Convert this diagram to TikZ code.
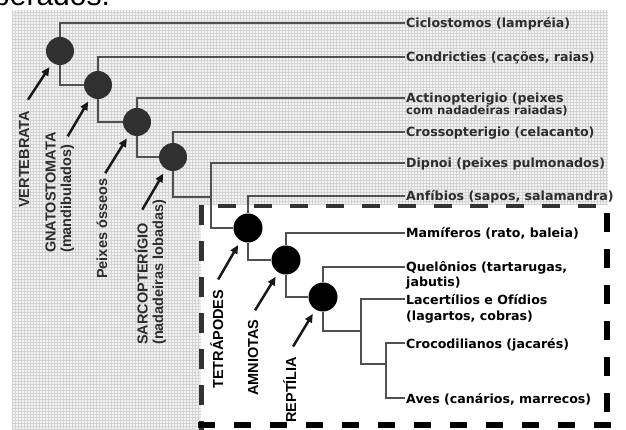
\documentclass[tikz,border=0pt]{standalone}
\usepackage{fontspec}
\usepackage{tikz}
\usetikzlibrary{arrows.meta}

\newfontfamily\taxonfont{DejaVu Sans}
\newfontfamily\cladefont{Liberation Sans}

\definecolor{gridbg}{RGB}{243,243,243}
\definecolor{gridline}{RGB}{212,212,212}
\definecolor{branch}{RGB}{80,80,80}
\definecolor{fishnode}{RGB}{48,48,48}
\definecolor{fishtext}{RGB}{45,45,45}

\tikzset{
	taxon/.style={anchor=base west, inner sep=1.5pt, align=left,
		font=\taxonfont\bfseries\fontsize{12.6}{14}\selectfont},
	clade/.style={rotate=90, anchor=base west, inner sep=0pt, align=left,
		font=\cladefont\bfseries\fontsize{14.5}{15.5}\selectfont},
	cladedot/.style={circle, fill=black, inner sep=0pt, minimum size=29pt},
	branchline/.style={draw=branch, line width=1.6pt},
	pointer/.style={draw=black!90, line width=2.5pt, -{Triangle[length=8.5pt,width=7.5pt]}, shorten >=5pt},
	boxedge/.style={draw=black},
}

\begin{document}
\begin{tikzpicture}[x=1pt, y=-1pt]
	\useasboundingbox (0,0) rectangle (626,430);
	\node[anchor=base west, inner sep=0pt, font=\cladefont\fontsize{30}{32}\selectfont] (caption) at (-7,6) {berados.};

	\fill[gridbg] (12,10) rectangle (608,430);
	\draw[gridline, line width=0.4pt, step=3pt] (12,10) grid (608,430);
	\fill[white] (201,205) rectangle (610,430);

	\node[cladedot, fill=fishnode, minimum size=28pt] (vert) at (60,51) {};
	\node[cladedot, fill=fishnode, minimum size=28pt] (gnat) at (98,85) {};
	\node[cladedot, fill=fishnode, minimum size=28pt] (osse) at (137,122) {};
	\node[cladedot, fill=fishnode, minimum size=28pt] (sarc) at (173,157) {};
	\node[cladedot] (tetr) at (248,228) {};
	\node[cladedot] (amni) at (286,260) {};
	\node[cladedot] (rept) at (323,297) {};

	\node[taxon, text=fishtext] (ciclo) at (404.5,28) {Ciclostomos (lampréia)};
	\node[taxon, text=fishtext] (condr) at (404.5,62) {Condricties (cações, raias)};
	\node[taxon, text=fishtext] (actin) at (404.5,114.5) {Actinopterigio (peixes\\[-2.5pt]{\fontsize{11.6}{13}\selectfont com nadadeiras raiadas)}};
	\node[taxon, text=fishtext] (cross) at (404.5,137) {Crossopterigio (celacanto)};
	\node[taxon, text=fishtext] (dipno) at (404.5,168) {Dipnoi (peixes pulmonados)};
	\node[taxon, text=fishtext] (anfib) at (404.5,201) {Anfíbios (sapos, salamandra)};
	\node[taxon] (mamif) at (404.5,238) {Mamíferos (rato, baleia)};
	\node[taxon] (quel) at (404.5,286) {Quelônios (tartarugas,\\jabutis)};
	\node[taxon] (lacer) at (404.5,320.5) {Lacertílios e Ofídios\\[2.5pt](lagartos, cobras)};
	\node[taxon] (croco) at (404.5,348) {Crocodilianos (jacarés)};
	\node[taxon] (aves) at (404.5,403) {Aves (canários, marrecos)};

	\coordinate (dipj) at (211,197);
	\coordinate (lacj) at (361,331);
	\coordinate (avej) at (386,364);

	\draw[branchline] (vert) |- ([yshift=5pt]ciclo.base west);
	\draw[branchline] (vert) |- (gnat);
	\draw[branchline] (gnat) |- ([yshift=5pt]condr.base west);
	\draw[branchline] (gnat) |- (osse);
	\draw[branchline] (osse) |- ([yshift=-6pt]actin.north west);
	\draw[branchline] (osse) |- (sarc);
	\draw[branchline] (sarc) |- ([yshift=5pt]cross.base west);
	\draw[branchline] (sarc) |- (dipj);
	\draw[branchline] ([yshift=5pt]dipno.base west) -| (dipj) |- (tetr);
	\draw[branchline] (tetr) |- ([yshift=5pt]anfib.base west);
	\draw[branchline] (tetr) |- (amni);
	\draw[branchline] (amni) |- ([yshift=5pt]mamif.base west);
	\draw[branchline] (amni) |- (rept);
	\draw[branchline] (rept) |- ([yshift=-6.5pt]quel.north west);
	\draw[branchline] (rept) |- (lacj);
	\draw[branchline] ([yshift=-6.5pt]lacer.north west) -| (lacj) |- (avej);
	\draw[branchline] ([yshift=5pt]croco.base west) -| (avej) |- ([yshift=5pt]aves.base west);

	\node[clade, text=fishtext] (vlab) at (29,208) {VERTEBRATA};
	\node[clade, text=fishtext] (glab) at (71,253) {GNATOSTOMATA\\(mandibulados)};
	\node[clade, text=fishtext] (olab) at (107,279) {Peixes ósseos};
	\node[clade, text=fishtext] (slab) at (163,345) {SARCOPTERÍGIO\\(nadadeiras lobadas)};
	\node[clade] (tlab) at (223,389) {TETRÁPODES};
	\node[clade] (alab) at (258,396) {AMNIOTAS};
	\node[clade] (rlab) at (296,423) {REPTÍLIA};

	\draw[pointer] ([shift={(4,-11)}]vlab.east) -- (vert);
	\draw[pointer] ([shift={(8,4)}]glab.east) -- (gnat);
	\draw[pointer] ([shift={(3.5,-5.5)}]olab.east) -- (osse);
	\draw[pointer] ([shift={(-8,10)}]slab.east) -- (sarc);
	\draw[pointer] ([shift={(1.5,-10)}]tlab.east) -- (tetr);
	\draw[pointer] ([shift={(2,-9)}]alab.east) -- (amni);
	\draw[pointer] ([shift={(3.5,-10)}]rlab.east) -- (rept);

	\draw[boxedge, draw=black!80, line width=3.5pt, dash pattern=on 18pt off 18pt, dash phase=19.5pt] (201.5,206) -- (607,206);
	\draw[boxedge, draw=black!80, line width=4.5pt, dash pattern=on 20pt off 16pt] (201.5,205) -- (201.5,430);
	\draw[boxedge, line width=6pt, dash pattern=on 19pt off 17pt, dash phase=28pt] (607,205) -- (607,425);
	\draw[boxedge, line width=6pt, dash pattern=on 17pt off 19pt] (198,425) -- (612,425);
\end{tikzpicture}
\end{document}
